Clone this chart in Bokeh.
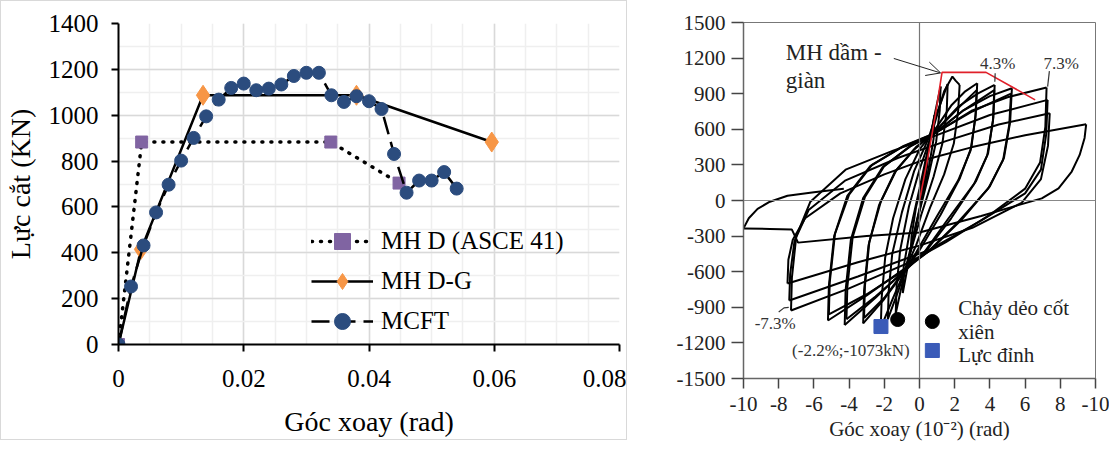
from bokeh.plotting import figure
from bokeh.layouts import row
from bokeh.models import FixedTicker, Range1d, Span, Label, Arrow, OpenHead
from bokeh.embed import file_html
from bokeh.resources import INLINE

SERIF = "Liberation Serif"

# ---------------- left panel data ----------------
asce_x = [0.0, 0.0037, 0.0339, 0.0448]
asce_y = [0, 883, 883, 704]
dg_x = [0.0, 0.0036, 0.0135, 0.0380, 0.0596]
dg_y = [0, 415, 1087, 1087, 883]
mcft_x = [0.000, 0.002, 0.004, 0.006, 0.008, 0.010, 0.012, 0.014, 0.016, 0.018,
          0.020, 0.022, 0.024, 0.026, 0.028, 0.030, 0.032, 0.034, 0.036, 0.038,
          0.040, 0.042, 0.044, 0.046, 0.048, 0.050, 0.052, 0.054]
mcft_y = [0, 253, 432, 576, 697, 802, 901, 995, 1068, 1119,
          1138, 1109, 1116, 1134, 1171, 1185, 1185, 1087, 1058, 1083,
          1061, 1027, 831, 662, 715, 715, 752, 680]
left_x_ticks = [0, 0.02, 0.04, 0.06, 0.08]
left_x_labels = ["0", "0.02", "0.04", "0.06", "0.08"]
left_y_ticks = [0, 200, 400, 600, 800, 1000, 1200, 1400]

# ---------------- right panel data ----------------
right_x_ticks = [-10, -8, -6, -4, -2, 0, 2, 4, 6, 8, 10]
right_x_labels = ["-10", "-8", "-6", "-4", "-2", "0", "2", "4", "6", "8", "-10"]
right_y_ticks = [-1500, -1200, -900, -600, -300, 0, 300, 600, 900, 1200, 1500]

loops_x = [
    [0, 0.25, 0.5, 0.45, 0.2, -0.2, -0.5, -0.45, -0.2, 0.2, 0.5, 0.85],
    [0.85, 0.8, 0.5, 0, -0.5, -0.95, -0.9, -0.6, 0, 0.5, 0.9, 1.2],
    [1.2, 1.15, 0.95, 0.5, -0.1, -0.7, -1.1, -1.35],
    [-1.35, -1.3, -1.1, -0.6, 0, 0.6, 1.0, 1.4, 1.87, 2.05, 2.28],
    [2.28, 2.2, 1.95, 1.4, 0.6, -0.2, -0.8, -1.5, -2.2],
    [-2.2, -2.15, -1.95, -1.5, -0.8, 0.0, 0.8, 1.8, 2.6, 3.28],
    [3.28, 3.2, 2.95, 2.3, 1.2, 0, -0.8, -2.0, -3.2],
    [-3.2, -3.15, -2.9, -2.3, -1.4, -0.3, 0.8, 2.2, 3.3, 4.27],
    [4.27, 4.2, 3.9, 3.2, 1.8, 0.4, -0.8, -2.5, -4.25],
    [-4.25, -4.2, -3.9, -3.2, -2.1, -0.6, 0.8, 2.5, 4.0, 5.25],
    [5.25, 5.15, 4.8, 4.0, 2.4, 0.6, -0.8, -3.0, -5.2],
    [-5.2, -5.15, -4.85, -4.1, -2.8, -1.0, 0.8, 3.0, 5.0, 7.22],
    [7.22, 7.15, 6.85, 6.0, 4.0, 1.5, -0.7, -4.0, -7.3],
    [-7.3, -7.25, -7.0, -6.2, -4.2, -1.5, 0.8, 4.0, 7.28],
    [7.28, 7.2, 6.9, 6.0, 3.5, 0.5, -3.5, -7.4],
    [-7.4, -7.35, -7.1, -6.3, -4.2, -1.2, 1.5, 4.5, 7.4],
    [7.4, 7.3, 6.9, 5.8, 3.0, 0, -3.5, -7.5],
    [-7.5, -7.45, -7.2, -6.5, -4.5, -2.0, 0.0, 3.0, 6.0, 9.47],
    [9.47, 9.38, 9.1, 8.65, 7.9, 6.95, 3.5, 0.0, -3.0, -6.9, -7.25, -8.5, -10.0],
    [-10.0, -9.7, -9.2, -8.5, -7.5, -6.0, -4.3],
    [1.6, 1.55, 1.3, 0.8, 0.1, -0.6, -1.2, -1.8],
    [-1.8, -1.75, -1.55, -1.0, -0.3, 0.5, 1.0, 1.6],
    [3.25, 3.18, 2.9, 2.2, 1.0, -0.2, -0.9, -2.0, -3.15],
    [-3.15, -3.1, -2.85, -2.2, -1.3, -0.2, 0.9, 2.2, 3.25],
    [4.25, 4.17, 3.85, 3.1, 1.6, 0.3, -0.8, -2.5, -4.15],
    [-4.15, -4.1, -3.8, -3.1, -2.0, -0.5, 0.9, 2.5, 4.25],
    [5.2, 5.1, 4.75, 3.9, 2.2, 0.5, -0.8, -3.0, -5.15],
    [-5.15, -5.1, -4.8, -4.0, -2.7, -0.9, 0.9, 3.0, 5.2],
]
loops_y = [
    [0, 200, 420, 300, 60, -200, -430, -300, -60, 200, 420, 720],
    [720, 520, 250, -80, -420, -780, -560, -300, 100, 450, 750, 960],
    [960, 760, 500, 200, -150, -520, -780, -952],
    [-952, -720, -420, -50, 260, 520, 720, 920, 1044, 1010, 974],
    [974, 760, 480, 220, -60, -380, -580, -820, -1073],
    [-1073, -820, -480, -150, 180, 430, 580, 800, 920, 988],
    [988, 740, 450, 190, -120, -420, -590, -830, -1036],
    [-1036, -760, -380, -40, 240, 430, 570, 790, 900, 974],
    [974, 700, 400, 160, -150, -420, -580, -820, -1050],
    [-1050, -760, -330, 20, 280, 450, 560, 760, 880, 946],
    [946, 660, 360, 120, -160, -420, -570, -800, -1011],
    [-1011, -720, -300, 40, 290, 450, 560, 760, 870, 952],
    [952, 620, 320, 100, -120, -350, -530, -740, -927],
    [-927, -650, -300, -10, 260, 420, 540, 720, 848],
    [848, 560, 260, 60, -170, -420, -640, -843],
    [-843, -620, -340, -80, 170, 360, 500, 640, 735],
    [735, 460, 180, -20, -230, -380, -520, -700],
    [-700, -500, -330, -150, 60, 220, 330, 450, 550, 642],
    [642, 527, 384, 244, 103, 18, -130, -270, -300, -355, -245, -240, -235],
    [-235, -150, -70, -10, 40, 70, 100],
    [980, 760, 480, 200, -120, -480, -760, -1000],
    [-1000, -760, -450, -100, 250, 520, 740, 980],
    [930, 700, 420, 170, -130, -440, -600, -820, -990],
    [-990, -720, -350, -10, 260, 450, 580, 780, 930],
    [930, 670, 380, 140, -160, -430, -590, -810, -1000],
    [-1000, -730, -310, 30, 290, 460, 570, 760, 930],
    [900, 640, 340, 100, -180, -430, -580, -790, -960],
    [-960, -690, -280, 50, 300, 460, 570, 750, 900],
]
model_x = [0, 0.5, 0.9, 1.28, 3.78, 6.57]
model_y = [0, 380, 717, 1080, 1080, 848]
yield_pt_x = [-1.24]
yield_pt_y = [-1003]
peak_pt_x = [-2.19]
peak_pt_y = [-1062]

ORANGE = "#F79646"
PURPLE = "#8064A2"
NAVY = "#2B4C7E"
BLUE = "#3A5BB8"

# ---------------- left figure ----------------
p1 = figure(frame_width=499, frame_height=319, x_range=Range1d(0, 0.08),
            y_range=Range1d(0, 1400), output_backend="svg", toolbar_location=None,
            min_border_left=112, min_border_right=9, min_border_top=22,
            min_border_bottom=97, background_fill_color="white",
            border_fill_color="white")
p1.outline_line_color = None
minor_x = [i * 0.005 for i in range(17)]
minor_y = [i * 100 for i in range(15)]
p1.xaxis.ticker = FixedTicker(ticks=left_x_ticks, minor_ticks=minor_x)
p1.yaxis.ticker = FixedTicker(ticks=left_y_ticks, minor_ticks=minor_y)
p1.xaxis.major_label_overrides = {t: s for t, s in zip(left_x_ticks, left_x_labels)}
for ax in (p1.xaxis[0], p1.yaxis[0]):
    ax.axis_line_color = "black"
    ax.axis_line_width = 2
    ax.major_tick_line_color = "black"
    ax.major_tick_line_width = 2
    ax.major_tick_out = 7
    ax.major_tick_in = 0
    ax.minor_tick_line_color = None
    ax.major_label_text_font = SERIF
    ax.major_label_text_font_size = "25px"
    ax.major_label_text_color = "black"
    ax.axis_label_text_font = SERIF
    ax.axis_label_text_font_size = "28px"
    ax.axis_label_text_font_style = "normal"
    ax.axis_label_text_color = "black"
p1.xaxis.axis_label = "Góc xoay (rad)"
p1.yaxis.axis_label = "Lực cắt (KN)"
p1.xaxis.major_label_standoff = 18
p1.yaxis.major_label_standoff = 13
p1.xaxis.axis_label_standoff = 16
p1.yaxis.axis_label_standoff = 10
for g in (p1.xgrid[0], p1.ygrid[0]):
    g.grid_line_color = "#d9d9d9"
    g.grid_line_width = 1.5
    g.minor_grid_line_color = "#efefef"
    g.minor_grid_line_width = 1.5

p1.line(asce_x, asce_y, line_color="black", line_width=3.5, line_dash="1 8",
        line_cap="round", legend_label="MH D (ASCE 41)")
p1.scatter(asce_x, asce_y, marker="square", size=12, fill_color=PURPLE,
           line_color=PURPLE, legend_label="MH D (ASCE 41)")
p1.line(dg_x, dg_y, line_color="black", line_width=2.5, legend_label="MH D-G")
p1.scatter(dg_x, dg_y, marker="diamond", size=20, fill_color=ORANGE,
           line_color=ORANGE, legend_label="MH D-G")
p1.line(mcft_x, mcft_y, line_color="black", line_width=2.5, line_dash="18 8",
        legend_label="MCFT")
p1.scatter(mcft_x, mcft_y, marker="circle", size=13, fill_color=NAVY,
           line_color=NAVY, legend_label="MCFT")

lg = p1.legend[0]
lg.location = (193, 3)
lg.border_line_color = None
lg.background_fill_alpha = 0
lg.label_text_font = SERIF
lg.label_text_font_size = "25px"
lg.label_text_color = "black"
lg.glyph_width = 62
lg.glyph_height = 40
lg.label_height = 40
lg.spacing = 0
lg.padding = 0
lg.margin = 0
lg.label_standoff = 8
p1.styles = {"border": "1px solid #d9d9d9"}

# ---------------- right figure ----------------
p2 = figure(frame_width=352, frame_height=356, x_range=Range1d(-10, 10),
            y_range=Range1d(-1500, 1500), output_backend="svg", toolbar_location=None,
            min_border_left=116, min_border_right=14, min_border_top=13,
            min_border_bottom=72, background_fill_color="white",
            border_fill_color="white")
p2.outline_line_color = "#777777"
p2.xgrid.grid_line_color = None
p2.ygrid.grid_line_color = None
p2.xaxis.ticker = FixedTicker(ticks=right_x_ticks)
p2.yaxis.ticker = FixedTicker(ticks=right_y_ticks)
p2.xaxis.major_label_overrides = {t: s for t, s in zip(right_x_ticks, right_x_labels)}
p2.yaxis.major_label_overrides = {t: str(t) for t in right_y_ticks}
for ax in (p2.xaxis[0], p2.yaxis[0]):
    ax.axis_line_color = "#666666"
    ax.axis_line_width = 1.5
    ax.major_tick_line_color = "#444444"
    ax.major_tick_line_width = 1.5
    ax.major_tick_in = 0
    ax.minor_tick_line_color = None
    ax.major_label_text_font = SERIF
    ax.major_label_text_font_size = "21px"
    ax.major_label_text_color = "#222222"
    ax.axis_label_text_font = SERIF
    ax.axis_label_text_font_size = "21px"
    ax.axis_label_text_font_style = "normal"
    ax.axis_label_text_color = "#222222"
p2.yaxis.major_tick_out = 12
p2.xaxis.major_tick_out = 10
p2.yaxis.major_label_standoff = 6
p2.xaxis.major_label_standoff = 8
p2.xaxis.axis_label = "Góc xoay (10⁻²) (rad)"
p2.xaxis.axis_label_standoff = 3

p2.add_layout(Span(location=0, dimension="width", line_color="#888888", line_width=1))
p2.add_layout(Span(location=0, dimension="height", line_color="#777777", line_width=1.2))

p2.multi_line(loops_x, loops_y, line_color="black", line_width=2)
p2.line(model_x, model_y, line_color="#E0202A", line_width=1.6)

p2.scatter(yield_pt_x, yield_pt_y, marker="circle", size=14, fill_color="black",
           line_color="black")
p2.scatter(peak_pt_x, peak_pt_y, marker="square", size=14, fill_color=BLUE,
           line_color=BLUE)
# legend markers
p2.scatter([0.73], [-1020], marker="circle", size=14, fill_color="black", line_color="black")
p2.scatter([0.73], [-1264], marker="square", size=14, fill_color=BLUE, line_color=BLUE)

# small annotation leaders
p2.line([4.3, 4.28], [1073, 1000], line_color="#333333", line_width=1.2)
p2.line([7.38, 7.28], [1090, 960], line_color="#333333", line_width=1.2)
p2.line([-8.0, -7.7, -7.43], [-939, -905, -900], line_color="#333333", line_width=1.2)

p2.add_layout(Arrow(end=OpenHead(size=14, line_width=1, line_color="#222222"),
                    x_start=-1.46, y_start=1197, x_end=1.2, y_end=1075,
                    line_width=1, line_color="#222222"))

def lab(x, y, t, size, align="left", color="#222222"):
    p2.add_layout(Label(x=x, y=y, text=t, text_font=SERIF, text_font_size=size,
                        text_align=align, text_baseline="middle", text_color=color))

lab(-7.6, 1247, "MH dầm -", "23px")
lab(-7.6, 1011, "giàn", "23px")
lab(4.45, 1155, "4.3%", "17px", "center", "#333333")
lab(8.05, 1155, "7.3%", "17px", "center", "#333333")
lab(-8.2, -1037, "-7.3%", "17px", "center", "#333333")
lab(-3.9, -1264, "(-2.2%;-1073kN)", "17px", "center", "#333333")
lab(2.2, -910, "Chảy dẻo cốt", "21px")
lab(2.2, -1104, "xiên", "21px")
lab(2.2, -1298, "Lực đỉnh", "21px")

layout = row(p1, p2)
open("out.html", "w").write(file_html(layout, INLINE))
